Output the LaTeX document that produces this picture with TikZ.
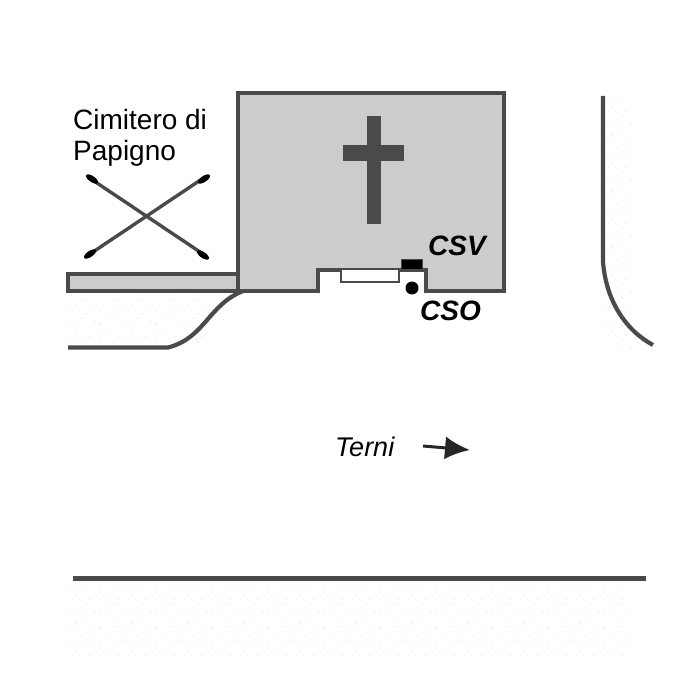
\documentclass[tikz,border=0pt]{standalone}
\usepackage{fontspec}
\setmainfont{Liberation Sans}
\usetikzlibrary{arrows.meta}
\definecolor{wall}{gray}{0.29}
\definecolor{fillg}{gray}{0.80}
\definecolor{dotg}{gray}{0.82}
% start x, columns, start y, rows
\newcommand{\stipple}[4]{%
  \foreach \i in {1,...,#2} {
    \foreach \j in {1,...,#4} {
      \pgfmathsetmacro{\px}{#1+28*(\i-1)}
      \pgfmathsetmacro{\py}{#3+28*(\j-1)}
      \foreach \dx/\dy in {0/0, 14/4, 4/9, 18/13, 0/14, 14/18, 9/22, 23/26} {
        \fill[dotg] (\px+\dx,\py+\dy) circle (0.7);
      }
    }
  }}
\begin{document}
\begin{tikzpicture}[
     x=1pt, y=-1pt,
        wline/.style = {draw=wall, line width=4.2pt},
        txt/.style = {inner sep=0pt, font=\fontsize{28}{30}\selectfont},
        itxt/.style = {inner sep=0pt, font=\fontsize{28}{30}\selectfont\itshape},
        crossline/.style = {draw=wall, line width=3.4pt}
                        ]
\useasboundingbox[fill=white] (0,0) rectangle (700,700);
% stippled ground
\begin{scope}
\clip (60,584) rectangle (640,656);
\stipple{72}{20}{586}{3}
\end{scope}
\begin{scope}
\clip (60,294) rectangle (212,344);
\stipple{72}{5}{296}{2}
\end{scope}
\stipple{608}{1}{98}{9}
% church
\filldraw[wline, fill=fillg, line join=miter] (238,93) -- (504,93) -- (504,291) -- (426,291) -- (426,270)
  -- (318,270) -- (318,291) -- (238,291) -- cycle;
\fill[white] (341,270) rectangle (399,282);
\draw[draw=wall, line width=2.4pt] (341,270) -- (341,282) -- (399,282) -- (399,270);
\fill[white] (343,272) rectangle (397,280);
% cross
\fill[wall] (367,116) rectangle (381,224);
\fill[wall] (343,145) rectangle (404,161);
% road side
\filldraw[wline, fill=fillg] (68,274) rectangle (238,291);
\draw[wline] (68,347.5) -- (168,347.5) .. controls (205,338) and (208,305) .. (243,291);
\draw[wline] (603,96) -- (603,262) .. controls (606,300) and (625,330) .. (653,345);
\draw[wline] (73,578.5) -- (646,578.5);
% graves
\draw[crossline] (88,177) -- (206,256);
\draw[crossline] (205,177) -- (87,256);
\foreach \tx/\ty/\ta in {92/179/-34, 203/255/-34, 204/179/34, 90/254/34} {
  \fill[black, rotate around={\ta:(\tx,\ty)}] (\tx,\ty) ellipse (7 and 3);
}
% labels
\node (cimitero)[txt, anchor=base west] at (73,130) {Cimitero di};
\node (papigno)[txt, anchor=base west] at (73,161) {Papigno};
\node (csv)[itxt, anchor=base west] at (428,255) {\textbf{CSV}};
\node (cso)[itxt, anchor=base west] at (420,320) {\textbf{CSO}};
\node (terni)[itxt, anchor=base west, font=\fontsize{27}{30}\selectfont\itshape] at (335,456) {Terni};
% sensors
\node (vbox)[fill=black, draw=wall, line width=1pt, minimum width=21pt, minimum height=10pt, inner sep=0pt] at (412,264) {};
\node (odot)[circle, fill=black, minimum size=13pt, inner sep=0pt] at (412,288) {};
% direction
\coordinate (from) at (423,446);
\coordinate (to) at (470,450);
\draw[draw=black!85, line width=3pt, -{Latex[length=25pt,width=23pt]}] (from) to (to);
\end{tikzpicture}
\end{document}
